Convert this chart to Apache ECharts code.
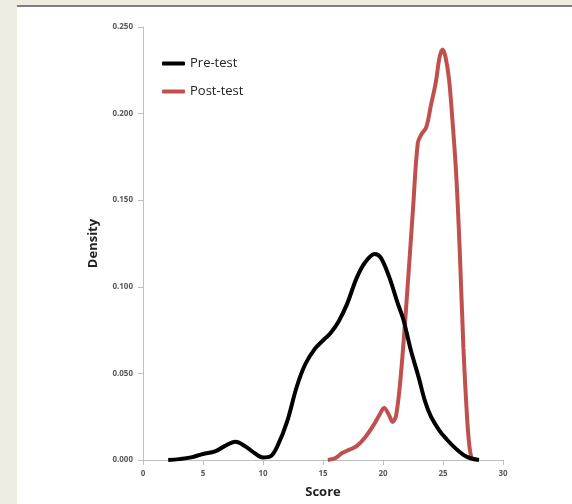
<!DOCTYPE html>
<html>
<head>
<meta charset="utf-8">
<script src="https://cdn.jsdelivr.net/npm/echarts@6/dist/echarts.min.js"></script>
<style>
  html, body { margin: 0; padding: 0; background: #fff; }
  #chart { width: 572px; height: 504px; }
</style>
</head>
<body>
<div id="chart"></div>
<script>
// score, density pairs
var preX = [2.1, 3, 4, 5, 6, 6.8, 7.7, 8.5, 9.3, 10, 10.6, 11.2, 12, 12.8, 13.5, 14.3, 15, 15.6, 16.3, 17, 17.8, 18.5, 19.3, 19.8, 20.5, 21.2, 21.7, 22.3, 23, 23.5, 24, 24.7, 25.3, 26, 26.7, 27.3, 28];
var preY = [0, 0.0005, 0.0015, 0.0035, 0.005, 0.008, 0.0105, 0.008, 0.004, 0.0015, 0.002, 0.008, 0.022, 0.042, 0.055, 0.064, 0.069, 0.073, 0.080, 0.090, 0.105, 0.114, 0.119, 0.117, 0.106, 0.091, 0.081, 0.064, 0.047, 0.034, 0.025, 0.017, 0.012, 0.007, 0.003, 0.001, 0];
var postX = [15.4, 16, 16.6, 17.2, 17.8, 18.5, 19.2, 19.7, 20.1, 20.5, 20.8, 21.1, 21.5, 22, 22.5, 22.9, 23.2, 23.6, 24, 24.4, 24.7, 24.95, 25.2, 25.5, 25.8, 26.1, 26.4, 26.7, 27, 27.2, 27.4];
var postY = [0, 0.001, 0.004, 0.006, 0.008, 0.013, 0.020, 0.026, 0.030, 0.026, 0.022, 0.026, 0.050, 0.095, 0.145, 0.183, 0.188, 0.192, 0.205, 0.218, 0.232, 0.237, 0.233, 0.220, 0.195, 0.165, 0.120, 0.065, 0.025, 0.008, 0];
var yTicks = ["0.000", "0.050", "0.100", "0.150", "0.200", "0.250"];

function pairs(xs, ys) {
  var out = [];
  for (var i = 0; i < xs.length; i++) {
    out.push([xs[i], ys[i]]);
  }
  return out;
}

var myChart = echarts.init(document.getElementById("chart"));
var labelFont = "Open Sans";
var options = {
  animation: false,
  // page frame: beige strip left and top, grey rule under it
  graphic: [
    { type: "rect", left: 0, top: 0, shape: { width: 17, height: 504 }, style: { fill: "#eeebe1" } },
    { type: "rect", left: 0, top: 0, shape: { width: 572, height: 5 }, style: { fill: "#eeebe1" } },
    { type: "rect", left: 17, top: 5, shape: { width: 555, height: 2 }, style: { fill: "#7f7f7f" } },
  ],
  grid: { left: 143, right: 69, top: 27, bottom: 41 },
  legend: {
    orient: "vertical",
    left: 162,
    top: 57,
    padding: 0,
    itemWidth: 23,
    itemHeight: 4,
    itemGap: 15,
    icon: "roundRect",
    textStyle: { fontFamily: labelFont, fontSize: 13, color: "#222" },
    data: ["Pre-test", "Post-test"],
  },
  xAxis: {
    type: "value",
    min: 0,
    max: 30,
    interval: 5,
    name: "Score",
    nameLocation: "middle",
    nameGap: 26,
    nameTextStyle: { fontFamily: labelFont, fontSize: 13, fontWeight: "bold", color: "#222" },
    axisLine: { lineStyle: { color: "#bfbfbf", width: 1 } },
    axisTick: { show: true, length: 5, lineStyle: { color: "#bfbfbf" } },
    axisLabel: { fontFamily: labelFont, fontSize: 8, fontWeight: "bold", color: "#595959", margin: 10 },
    splitLine: { show: false },
  },
  yAxis: {
    type: "value",
    min: 0,
    max: 0.25,
    interval: 0.05,
    name: "Density",
    nameLocation: "middle",
    nameGap: 43,
    nameTextStyle: { fontFamily: labelFont, fontSize: 13, fontWeight: "bold", color: "#222" },
    axisLine: { show: true, lineStyle: { color: "#bfbfbf", width: 1 } },
    axisTick: { show: true, length: 5, lineStyle: { color: "#bfbfbf" } },
    axisLabel: {
      fontFamily: labelFont,
      fontSize: 8,
      fontWeight: "bold",
      color: "#595959",
      margin: 10,
      formatter: function (v) {
        return yTicks[Math.round(v / 0.05)];
      },
    },
    splitLine: { show: false },
  },
  series: [
    {
      name: "Pre-test",
      type: "line",
      smooth: 0.35,
      showSymbol: false,
      data: pairs(preX, preY),
      itemStyle: { color: "#000000" },
      lineStyle: { color: "#000000", width: 4 },
      z: 3,
    },
    {
      name: "Post-test",
      type: "line",
      smooth: 0.35,
      showSymbol: false,
      data: pairs(postX, postY),
      itemStyle: { color: "#c0504d" },
      lineStyle: { color: "#c0504d", width: 4 },
      z: 2,
    },
  ],
};
myChart.setOption(options);
</script>
</body>
</html>
